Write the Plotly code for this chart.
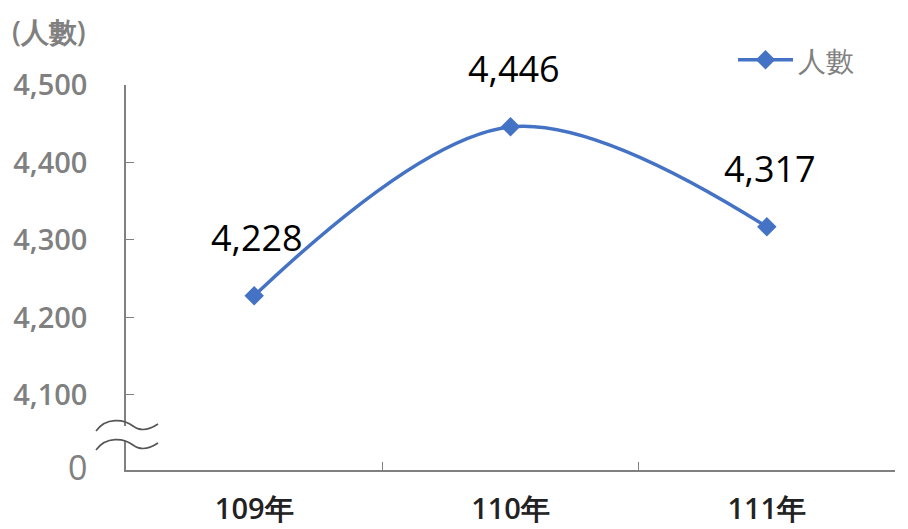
import plotly.graph_objects as go

categories = ["109年", "110年", "111年"]
values = [4228, 4446, 4317]
value_labels = ["4,228", "4,446", "4,317"]
y_tickvals = [4003.2, 4100, 4200, 4300, 4400, 4500]
y_ticktext = ["<span style='font-size:34px;font-weight:400'>0</span>",
              "4,100", "4,200", "4,300", "4,400", "4,500"]
series_name = "人數"
unit_label = "(人數)"

W, H = 908, 529
OFF = 8  # browser body margin
# plot area in screen pixels: x 126..895, y 85..470
ML = 126 - OFF
MT = 85 - OFF
MR = W - (895 - OFF)
MB = H - (470 - OFF)
PW, PH = W - ML - MR, H - MT - MB

BLUE = "#4472C4"
GREY = "#808080"
FONT = "Open Sans"

def px(x):
    return (x - OFF - ML) / PW

def py(y):
    return (H - MB - (y - OFF)) / PH

def wave(y0):
    pts = [(96, y0 + 7), (106, y0 - 7), (124, y0 - 5), (133, y0 + 2),
           (142, y0 + 9), (152, y0 + 4), (158, y0)]
    d = f"M {px(pts[0][0])},{py(pts[0][1])}"
    d += f" C {px(pts[1][0])},{py(pts[1][1])} {px(pts[2][0])},{py(pts[2][1])} {px(pts[3][0])},{py(pts[3][1])}"
    d += f" C {px(pts[4][0])},{py(pts[4][1])} {px(pts[5][0])},{py(pts[5][1])} {px(pts[6][0])},{py(pts[6][1])}"
    return d

fig = go.Figure()
fig.add_trace(go.Scatter(
    x=categories, y=values, name=series_name,
    mode="lines+markers",
    line=dict(color=BLUE, width=3.5, shape="spline"),
    marker=dict(symbol="diamond", size=15, color=BLUE),
    cliponaxis=False,
))

annotations = [
    dict(x=c, y=v, xref="x", yref="y", text=t, showarrow=False,
         yshift=58, xshift=3, yanchor="middle", xanchor="center",
         font=dict(family=FONT, size=36, color="#000000"))
    for c, v, t in zip(categories, values, value_labels)
]
annotations.append(dict(
    text=unit_label, xref="paper", yref="paper",
    x=px(10), y=py(31), xanchor="left", yanchor="middle",
    showarrow=False, font=dict(family=FONT, size=28, color=GREY, weight=600),
))

shapes = [
    dict(type="rect", xref="paper", yref="paper",
         x0=px(120), x1=px(132), y0=py(441), y1=py(426),
         fillcolor="white", line=dict(width=0), layer="above"),
    dict(type="path", xref="paper", yref="paper", path=wave(424),
         line=dict(color="#555555", width=1.6), layer="above"),
    dict(type="path", xref="paper", yref="paper", path=wave(443),
         line=dict(color="#555555", width=1.6), layer="above"),
]

fig.update_layout(
    width=W, height=H,
    margin=dict(l=ML, r=MR, t=MT, b=MB, autoexpand=False),
    paper_bgcolor="white", plot_bgcolor="white",
    showlegend=True,
    legend=dict(x=px(733), y=py(60), xanchor="left", yanchor="middle",
                itemwidth=55,
                font=dict(family=FONT, size=28, color=GREY),
                bgcolor="rgba(0,0,0,0)"),
    xaxis=dict(
        type="category", range=[-0.5, 2.5],
        showline=True, linecolor=GREY, linewidth=1.5,
        ticks="inside", ticklen=8, tickcolor=GREY, tickwidth=1,
        tickson="boundaries", showgrid=False, zeroline=False,
        tickfont=dict(family=FONT, size=29, color="#222222", weight=600),
        ticklabelstandoff=12,
    ),
    yaxis=dict(
        range=[4003.2, 4500], tickvals=y_tickvals, ticktext=y_ticktext,
        showline=True, linecolor=GREY, linewidth=1.5,
        ticks="inside", ticklen=8, tickcolor=GREY, tickwidth=1,
        showgrid=False, zeroline=False,
        tickfont=dict(family=FONT, size=29, color=GREY, weight=600),
        ticklabelstandoff=31,
    ),
    shapes=shapes,
    annotations=annotations,
)

fig.write_html("out.html")
